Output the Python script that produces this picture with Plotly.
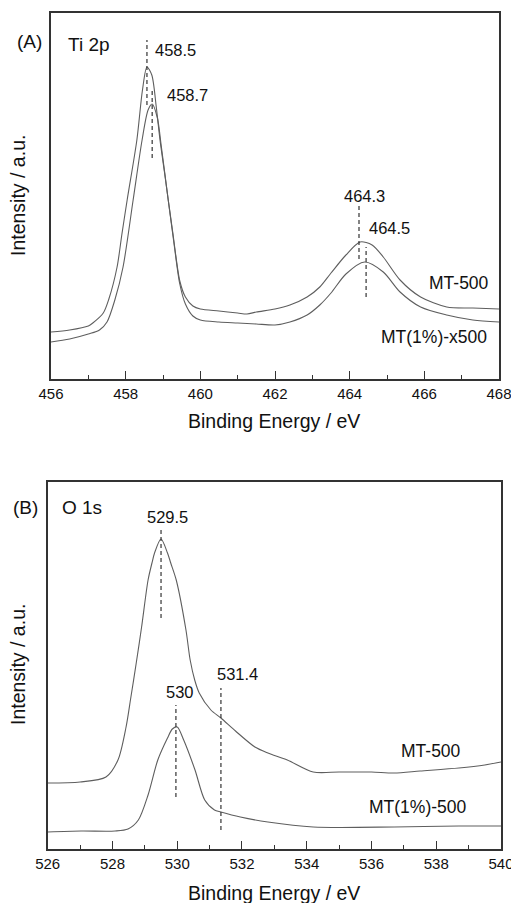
import plotly.graph_objects as go

W, H = 511, 903

# ---------------- data ----------------
ti_energy_mt500 = [456, 456.5, 457, 457.12, 457.4, 457.55, 457.77, 457.9, 458.04, 458.3, 458.45, 458.57,
                   458.7, 458.82, 458.92, 459.05, 459.14, 459.26, 459.45, 459.6, 459.8, 460, 460.5, 461,
                   461.25, 461.5, 462, 462.4, 462.86, 463.2, 463.5, 463.9, 464.28, 464.6, 464.9, 465.35,
                   465.9, 466.6, 467.3, 468]
ti_int_mt500 = [47, 49, 53, 56, 66, 80, 112, 145, 179, 239, 289, 312,
                304, 272, 239, 204, 179, 147, 98, 82, 73, 70, 68, 66,
                65, 67, 70, 74, 82, 92, 106, 124, 137, 134, 122, 99,
                82, 72, 71, 70]

ti_energy_mt1 = [456, 456.5, 457, 457.3, 457.5, 457.71, 457.93, 458.2, 458.44, 458.6, 458.71, 458.85,
                 458.95, 459.14, 459.3, 459.45, 459.6, 459.8, 460, 460.5, 461, 461.5, 462, 462.4,
                 462.86, 463.2, 463.5, 463.9, 464.4, 464.9, 465.35, 465.9, 466.6, 467.3, 468]
ti_int_mt1 = [37, 40, 45, 49, 57, 79, 112, 179, 239, 269, 275, 261,
              234, 179, 134, 95, 75, 63, 59, 57, 56, 55, 54, 57,
              64, 74, 86, 105, 117, 107, 87, 72, 64, 59, 57]

o_energy_mt500 = [526, 527, 527.8, 528.17, 528.42, 528.57, 528.73, 528.9, 529.1, 529.22, 529.3, 529.5,
                  529.7, 529.8, 529.97, 530.27, 530.4, 530.54, 530.68, 531.04, 531.35, 531.8, 532.4, 532.8,
                  533.4, 534.2, 535, 536, 536.7, 537.5, 538.7, 539.5, 540]
o_int_mt500 = [66, 67, 72, 89, 122, 152, 185, 222, 269, 286, 296, 310,
               296, 286, 269, 219, 189, 169, 156, 139, 131, 118, 102, 96,
               89, 77, 77, 77, 76, 78, 81, 84, 87]

o_energy_mt1 = [526, 527.03, 528.08, 528.48, 528.8, 529.1, 529.4, 529.7, 529.85, 530.0, 530.2, 530.55,
                530.85, 531.15, 531.35, 531.95, 532.8, 534.2, 536.7, 538.7, 540]
o_int_mt1 = [17, 18, 18, 20, 29, 54, 89, 111, 120, 122, 109, 79,
             49, 39, 37, 32, 27, 22, 22, 23, 23]

# peak markers: position, top, bottom (intensity units)
ti_peak_pos = [458.57, 458.71, 464.25, 464.44]
ti_peak_top = [339, 289, 176, 132]
ti_peak_bot = [274, 221, 120, 82]
ti_peak_text = ["458.5", "458.7", "464.3", "464.5"]

o_peak_pos = [529.5, 529.96, 531.35]
o_peak_top = [322, 144, 161]
o_peak_bot = [231, 52, 19]
o_peak_text = ["529.5", "530", "531.4"]

ti_ticks = [456, 458, 460, 462, 464, 466, 468]
o_ticks = [526, 528, 530, 532, 534, 536, 538, 540]

# ---------------- figure ----------------
FONT = "Liberation Sans, Arial, sans-serif"
LINE_C = "#5e5e5e"
TXT = "#111111"


def px(x):
    return x / W


def py(y):
    return 1 - y / H


fig = go.Figure()
line_style = dict(color=LINE_C, width=1.1, shape="spline", smoothing=0.8)
fig.add_trace(go.Scatter(x=ti_energy_mt500, y=ti_int_mt500, mode="lines", line=line_style, xaxis="x", yaxis="y", showlegend=False))
fig.add_trace(go.Scatter(x=ti_energy_mt1, y=ti_int_mt1, mode="lines", line=line_style, xaxis="x", yaxis="y", showlegend=False))
fig.add_trace(go.Scatter(x=o_energy_mt500, y=o_int_mt500, mode="lines", line=line_style, xaxis="x2", yaxis="y2", showlegend=False))
fig.add_trace(go.Scatter(x=o_energy_mt1, y=o_int_mt1, mode="lines", line=line_style, xaxis="x2", yaxis="y2", showlegend=False))

shapes = []
for p, t, b in zip(ti_peak_pos, ti_peak_top, ti_peak_bot):
    shapes.append(dict(type="line", xref="x", yref="y", x0=p, x1=p, y0=b, y1=t,
                       line=dict(color="#333", width=1.2, dash="4px,3px")))
for p, t, b in zip(o_peak_pos, o_peak_top, o_peak_bot):
    shapes.append(dict(type="line", xref="x2", yref="y2", x0=p, x1=p, y0=b, y1=t,
                       line=dict(color="#333", width=1.2, dash="4px,3px")))

axis_common = dict(showgrid=False, zeroline=False, showline=True, linecolor="#333", linewidth=1.5,
                   mirror=True, automargin=False)
tick_common = dict(ticks="inside", ticklen=8, tickwidth=1.3, tickcolor="#333",
                   ticklabeloverflow="allow",
                   tickfont=dict(size=15, family=FONT, color=TXT))

fig.update_layout(
    width=W, height=H, margin=dict(l=0, r=0, t=0, b=0, autoexpand=False),
    paper_bgcolor="white", plot_bgcolor="white",
    font=dict(family=FONT, color=TXT),
    shapes=shapes,
    xaxis=dict(domain=[px(51), px(499)], range=[456, 468], anchor="y", tickvals=ti_ticks,
               minor=dict(ticks="inside", ticklen=4, tickwidth=1.2, dtick=1, tick0=456, tickcolor="#333"),
               **tick_common, **axis_common),
    yaxis=dict(domain=[py(379), py(13)], range=[0, 366], anchor="x",
               showticklabels=False, ticks="", **axis_common),
    xaxis2=dict(domain=[px(47.7), px(501)], range=[526, 540], anchor="y2", tickvals=o_ticks,
                minor=dict(ticks="inside", ticklen=4, tickwidth=1.2, dtick=1, tick0=526, tickcolor="#333"),
                **tick_common, **axis_common),
    yaxis2=dict(domain=[py(849), py(482)], range=[0, 367], anchor="x2",
                showticklabels=False, ticks="", **axis_common),
)

ann = []


def text(s, x, y, size, xanchor="center", angle=0):
    ann.append(dict(text=s, x=px(x), y=py(y), xref="paper", yref="paper", showarrow=False,
                    xanchor=xanchor, yanchor="middle", textangle=angle,
                    font=dict(size=size, family=FONT, color=TXT)))


# panel labels
text("(A)", 29, 41, 19)
text("Ti 2p", 66, 44, 19, "left")
text("(B)", 25.5, 507, 19)
text("O 1s", 60, 507, 19, "left")
# peak labels
text(ti_peak_text[0], 153, 50, 16.5, "left")
text(ti_peak_text[1], 165, 95, 16.5, "left")
text(ti_peak_text[2], 342, 196, 16.5, "left")
text(ti_peak_text[3], 367, 228, 16.5, "left")
text(o_peak_text[0], 167, 517, 16.5)
text(o_peak_text[1], 179.5, 692, 16.5)
text(o_peak_text[2], 237, 674, 16.5)
# series labels
text("MT-500", 491, 283, 17.5, "right")
text("MT(1%)-x500", 489, 337, 17.5, "right")
text("MT-500", 463, 751, 17.5, "right")
text("MT(1%)-500", 469, 807, 17.5, "right")
# axis titles
text("Binding Energy / eV", 274, 421, 19.5)
text("Binding Energy / eV", 274, 893, 19.5)
text("Intensity / a.u.", 18, 196, 19.5, angle=-90)
text("Intensity / a.u.", 18, 665, 19.5, angle=-90)

fig.update_layout(annotations=ann)
fig.write_html("out.html")
